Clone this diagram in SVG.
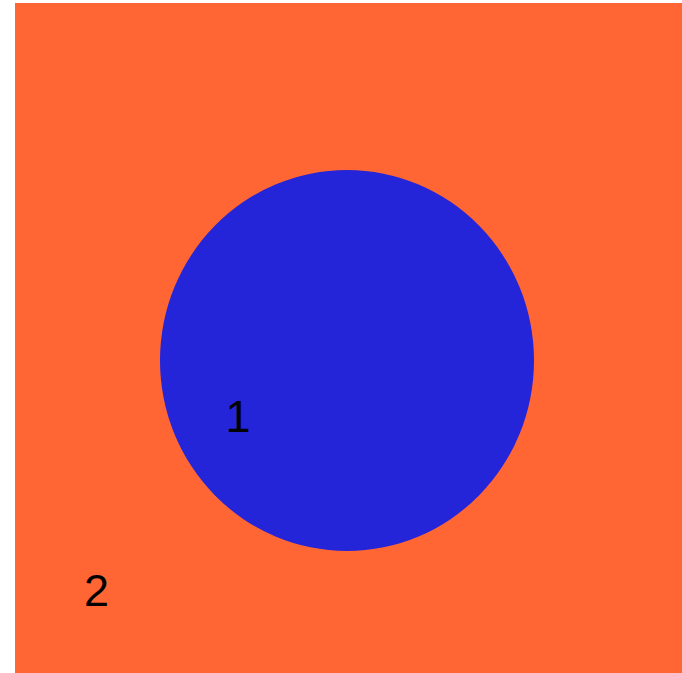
<svg xmlns="http://www.w3.org/2000/svg" width="682" height="673" viewBox="0 0 682 673">
<style>
.lbl{font-family:"Liberation Sans",Arial,sans-serif;font-size:45px;fill:#000}
</style>
<rect x="0" y="0" width="682" height="673" fill="#fff"/>
<g id="region2">
<rect x="15" y="3" width="667" height="670" fill="#ff6633"/>
<text class="lbl" x="84" y="606">2</text>
</g>
<g id="region1">
<ellipse cx="347" cy="360.5" rx="187" ry="190.5" fill="#2424d9"/>
<text class="lbl" x="225.5" y="432">1</text>
</g>
<g id="connectors"></g>
</svg>
